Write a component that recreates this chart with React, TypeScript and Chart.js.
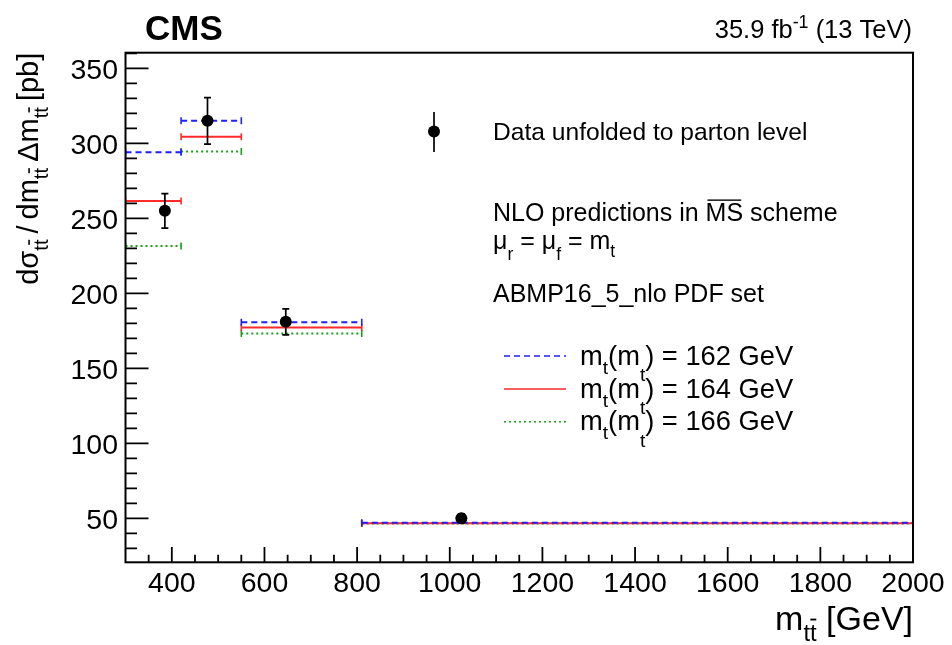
import React, { useEffect, useRef } from 'react';
import { Chart, registerables } from 'chart.js';

Chart.register(...registerables);

// m_tt bin edges [GeV]
const binEdges = [300, 420, 550, 810, 2000];

// Unfolded data (parton level)
const dataX = [385, 477, 646, 1025];
const dataY = [255, 315, 181, 50];
const dataErr = [11.5, 15.5, 8.7, 3];

// NLO predictions for three values of mt(mt)
const mt162 = [294, 315, 180.7, 47.1];
const mt164 = [261.5, 304.4, 177.3, 46.8];
const mt166 = [231.5, 294.5, 173.3, 46.5];

const xTickValues = [400, 600, 800, 1000, 1200, 1400, 1600, 1800, 2000];
const yTickValues = [50, 100, 150, 200, 250, 300, 350];

const X_MIN = 300;
const X_MAX = 2000;
const Y_MIN = 20.7;
const Y_MAX = 360.4;

const W = 952;
const H = 645;
const AREA = { left: 125.5, right: 913, top: 52.7, bottom: 562.3 };

const FONT = '"Liberation Sans", Arial, Helvetica, sans-serif';
const BLUE = '#1f1fff';
const RED = '#ff2a2a';
const GREEN = '#1c9c1c';

// text segment: plain, subscript, superscript, optional overline, or a fixed gap
type Seg = { t: string; sub?: boolean; sup?: boolean; bar?: boolean; drop?: number; gap?: number };

function segFont(s: Seg, size: number) {
  return s.sub || s.sup ? size * 0.7 : size;
}

function segWidth(ctx: CanvasRenderingContext2D, s: Seg, size: number) {
  if (s.gap !== undefined) return s.gap;
  ctx.font = `${segFont(s, size)}px ${FONT}`;
  return ctx.measureText(s.t).width;
}

function drawRich(
  ctx: CanvasRenderingContext2D,
  segs: Seg[],
  x: number,
  y: number,
  size: number,
  align: 'left' | 'right' = 'left'
) {
  const total = segs.reduce((acc, s) => acc + segWidth(ctx, s, size), 0);
  let cx = align === 'right' ? x - total : x;
  ctx.textAlign = 'left';
  ctx.textBaseline = 'alphabetic';
  for (const s of segs) {
    const tw = segWidth(ctx, s, size);
    if (s.gap === undefined) {
      const fs = segFont(s, size);
      ctx.font = `${fs}px ${FONT}`;
      let dy = 0;
      if (s.sub) dy = s.drop !== undefined ? s.drop * size : size * 0.33;
      if (s.sup) dy = -size * 0.4;
      ctx.fillText(s.t, cx, y + dy);
      if (s.bar) {
        const by = y + dy - fs * (s.sub ? 0.95 : 0.85);
        ctx.fillRect(cx + tw * 0.05, by, tw * 0.9, Math.max(1.2, size * 0.055));
      }
    }
    cx += tw;
  }
}

function steps(vals: number[]) {
  const pts: { x: number; y: number | null }[] = [];
  vals.forEach((v, i) => {
    pts.push({ x: binEdges[i], y: v }, { x: binEdges[i + 1], y: v });
    if (i < vals.length - 1) pts.push({ x: binEdges[i + 1], y: null });
  });
  return pts;
}

function predictionDataset(label: string, vals: number[], color: string, dash: number[], order: number) {
  return {
    type: 'line' as const,
    label,
    data: steps(vals),
    borderColor: color,
    borderWidth: 2,
    borderDash: dash,
    spanGaps: false,
    tension: 0,
    pointStyle: 'line' as const,
    pointRotation: 90,
    pointRadius: 3.5,
    pointHoverRadius: 3.5,
    pointBorderColor: color,
    pointBackgroundColor: color,
    pointBorderWidth: 1.6,
    order,
  };
}

const ttbar: Seg[] = [{ t: 't', sub: true }, { t: 't', sub: true, bar: true }];

const plotDecor = {
  id: 'plotDecor',
  beforeDraw(chart: any) {
    const ctx = chart.ctx as CanvasRenderingContext2D;
    ctx.save();
    ctx.fillStyle = '#fff';
    ctx.fillRect(0, 0, chart.width, chart.height);
    ctx.restore();
  },
  afterDatasetsDraw(chart: any) {
    const ctx = chart.ctx as CanvasRenderingContext2D;
    const xs = chart.scales.x;
    const ys = chart.scales.y;
    ctx.save();
    // vertical error bars of the data
    ctx.strokeStyle = '#000';
    ctx.lineWidth = 1.7;
    dataX.forEach((xv, i) => {
      const px = xs.getPixelForValue(xv);
      const hi = ys.getPixelForValue(dataY[i] + dataErr[i]);
      const lo = ys.getPixelForValue(dataY[i] - dataErr[i]);
      ctx.beginPath();
      ctx.moveTo(px, hi);
      ctx.lineTo(px, lo);
      ctx.moveTo(px - 3.5, hi);
      ctx.lineTo(px + 3.5, hi);
      ctx.moveTo(px - 3.5, lo);
      ctx.lineTo(px + 3.5, lo);
      ctx.stroke();
    });
    ctx.restore();
  },
  afterDraw(chart: any) {
    const ctx = chart.ctx as CanvasRenderingContext2D;
    const xs = chart.scales.x;
    const ys = chart.scales.y;
    const a = chart.chartArea;
    ctx.save();
    ctx.fillStyle = '#000';
    ctx.strokeStyle = '#000';

    // frame
    ctx.lineWidth = 2;
    ctx.strokeRect(a.left, a.top, a.right - a.left, a.bottom - a.top);

    // major and minor ticks
    ctx.lineWidth = 1.8;
    ctx.beginPath();
    for (let v = Math.ceil(Y_MIN / 10) * 10; v <= Y_MAX; v += 10) {
      const py = ys.getPixelForValue(v);
      const len = v % 50 === 0 ? 23 : 11.5;
      ctx.moveTo(a.left, py);
      ctx.lineTo(a.left + len, py);
    }
    for (let v = X_MIN + 50; v <= X_MAX; v += 50) {
      const px = xs.getPixelForValue(v);
      const len = v % 200 === 0 ? 15.3 : 7.6;
      ctx.moveTo(px, a.bottom);
      ctx.lineTo(px, a.bottom - len);
    }
    ctx.stroke();

    // tick labels
    const tickSize = 28.5;
    ctx.font = `${tickSize}px ${FONT}`;
    ctx.textBaseline = 'alphabetic';
    ctx.textAlign = 'right';
    for (const t of ys.ticks) {
      ctx.fillText(String(t.value), a.left - 7.5, ys.getPixelForValue(t.value) + tickSize * 0.358);
    }
    ctx.textAlign = 'center';
    for (const t of xs.ticks) {
      ctx.fillText(String(t.value), xs.getPixelForValue(t.value), 591.5);
    }

    // axis titles
    drawRich(ctx, [{ t: 'm' }, ...ttbar, { t: ' [GeV]' }], a.right, 630, 34, 'right');
    ctx.save();
    ctx.translate(38, a.top);
    ctx.rotate(-Math.PI / 2);
    drawRich(
      ctx,
      [
        { t: 'dσ' }, ...ttbar, { t: '', gap: 6 }, { t: '/' }, { t: '', gap: 6 }, { t: 'dm' }, ...ttbar,
        { t: '', gap: 6 }, { t: 'Δm' }, ...ttbar, { t: '', gap: 6 }, { t: '[pb]' },
      ],
      0,
      0,
      29,
      'right'
    );
    ctx.restore();

    // header
    ctx.textAlign = 'left';
    ctx.font = `bold 35px ${FONT}`;
    ctx.fillText('CMS', 145, 40);
    drawRich(ctx, [{ t: '35.9 fb' }, { t: '-1', sup: true }, { t: ' (13 TeV)' }], 912, 38, 25.5, 'right');

    // data legend entry
    ctx.lineWidth = 1.7;
    ctx.beginPath();
    ctx.moveTo(434, 112);
    ctx.lineTo(434, 152);
    ctx.stroke();
    ctx.beginPath();
    ctx.arc(434, 131.5, 6, 0, Math.PI * 2);
    ctx.fill();
    drawRich(ctx, [{ t: 'Data unfolded to parton level' }], 493, 139.5, 24.6);

    drawRich(ctx, [{ t: 'NLO predictions in ' }, { t: 'MS', bar: true }, { t: ' scheme' }], 493, 220.7, 25);
    drawRich(
      ctx,
      [
        { t: 'μ' },
        { t: 'r', sub: true, drop: 0.45 },
        { t: ' = μ' },
        { t: 'f', sub: true, drop: 0.45 },
        { t: ' = m' },
        { t: 't', sub: true, drop: 0.3 },
      ],
      493,
      249,
      25
    );
    drawRich(ctx, [{ t: 'ABMP16_5_nlo PDF set' }], 493, 301.7, 25);

    // prediction legend entries
    const entries = [
      { label: '162', color: BLUE, dash: [6, 4], y: 356 },
      { label: '164', color: RED, dash: [], y: 389 },
      { label: '166', color: GREEN, dash: [2, 3], y: 421.7 },
    ];
    for (const e of entries) {
      ctx.save();
      ctx.strokeStyle = e.color;
      ctx.lineWidth = 1.6;
      ctx.setLineDash(e.dash);
      ctx.beginPath();
      ctx.moveTo(504, e.y);
      ctx.lineTo(566, e.y);
      ctx.stroke();
      ctx.restore();
      drawRich(
        ctx,
        [
          { t: 'm' },
          { t: 't', sub: true, drop: 0.33 },
          { t: '(m' },
          { t: 't', sub: true, drop: 0.62 },
          { t: `) = ${e.label} GeV` },
        ],
        580,
        e.y + 8.5,
        27.3
      );
    }
    ctx.restore();
  },
};

export default function App() {
  const ref = useRef<HTMLCanvasElement>(null);

  useEffect(() => {
    const canvas = ref.current;
    if (!canvas) return;
    const chart = new Chart(canvas, {
      type: 'line',
      data: {
        datasets: [
          {
            type: 'line',
            label: 'Data',
            data: dataX.map((x, i) => ({ x, y: dataY[i] })),
            showLine: false,
            pointStyle: 'circle',
            pointRadius: 6,
            pointHoverRadius: 6,
            pointBackgroundColor: '#000',
            pointBorderColor: '#000',
            pointBorderWidth: 0,
            order: 0,
          },
          predictionDataset('mt(mt) = 162 GeV', mt162, BLUE, [6, 4], 1),
          predictionDataset('mt(mt) = 164 GeV', mt164, RED, [], 2),
          predictionDataset('mt(mt) = 166 GeV', mt166, GREEN, [2, 3], 3),
        ] as any,
      },
      options: {
        animation: false,
        responsive: false,
        devicePixelRatio: 1,
        events: [],
        layout: {
          padding: { left: 0, right: W - AREA.right, top: AREA.top, bottom: 0 },
        },
        plugins: {
          legend: { display: false },
          tooltip: { enabled: false },
        },
        scales: {
          x: {
            type: 'linear',
            min: X_MIN,
            max: X_MAX,
            grid: { display: false },
            border: { display: false },
            ticks: { display: false },
            afterBuildTicks: (s: any) => {
              s.ticks = xTickValues.map((value) => ({ value }));
            },
            afterFit: (s: any) => {
              s.height = H - AREA.bottom;
            },
          },
          y: {
            type: 'linear',
            min: Y_MIN,
            max: Y_MAX,
            grid: { display: false },
            border: { display: false },
            ticks: { display: false },
            afterBuildTicks: (s: any) => {
              s.ticks = yTickValues.map((value) => ({ value }));
            },
            afterFit: (s: any) => {
              s.width = AREA.left;
            },
          },
        },
      } as any,
      plugins: [plotDecor],
    });
    return () => chart.destroy();
  }, []);

  return (
    <div style={{ position: 'absolute', left: 0, top: 0, width: W, height: H, background: '#fff' }}>
      <canvas ref={ref} width={W} height={H} style={{ display: 'block', width: W, height: H }} />
    </div>
  );
}
